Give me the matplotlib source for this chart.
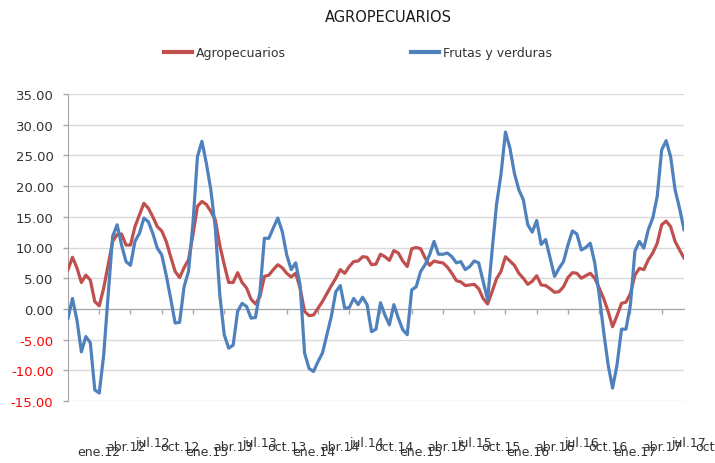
import matplotlib
matplotlib.use("Agg")
import matplotlib.pyplot as plt
from matplotlib.lines import Line2D
from matplotlib.ticker import FormatStrFormatter
from matplotlib.transforms import blended_transform_factory

# ---- data ----
agropecuarios = [
    6.4, 8.4, 6.7, 4.3, 5.5, 4.7, 1.2, 0.5, 3.4, 7.2,
    11.0, 12.1, 12.2, 10.4, 10.4, 13.4, 15.3, 17.2, 16.4, 15.0,
    13.4, 12.7, 11.0, 8.5, 6.1, 5.1, 6.7, 8.0, 12.1, 16.7,
    17.5, 17.0, 15.9, 14.5, 10.4, 7.2, 4.3, 4.3, 5.9, 4.3,
    3.4, 1.6, 0.8, 2.0, 5.3, 5.5, 6.4, 7.2, 6.7, 5.8,
    5.2, 5.8, 3.4, -0.4, -1.1, -1.0, 0.1, 1.2, 2.5, 3.8,
    5.0, 6.4, 5.8, 6.9, 7.7, 7.8, 8.5, 8.4, 7.2, 7.3,
    8.9, 8.5, 7.9, 9.5, 9.1, 7.8, 6.9, 9.8, 10.0, 9.8,
    8.3, 7.1, 7.8, 7.6, 7.5, 6.8, 5.8, 4.6, 4.4, 3.8,
    3.9, 4.0, 3.3, 1.7, 0.8, 2.8, 4.9, 6.1, 8.5, 7.8,
    7.1, 5.8, 5.0, 4.0, 4.5, 5.4, 3.9, 3.8, 3.3, 2.7,
    2.8, 3.6, 5.1, 5.9, 5.8, 5.0, 5.4, 5.8, 5.0, 3.4,
    1.7, -0.4, -2.9, -1.1, 0.9, 1.1, 2.5, 5.5, 6.6, 6.4,
    8.0, 9.1, 10.7, 13.7, 14.3, 13.4, 11.0, 9.6, 8.3,
]
frutas_verduras = [
    -1.5, 1.7, -1.8, -7.0, -4.5, -5.5, -13.2, -13.7, -7.5, 2.3,
    11.8, 13.7, 10.4, 7.7, 7.1, 11.0, 12.3, 14.8, 14.2, 12.3,
    9.9, 8.8, 5.5, 1.7, -2.3, -2.2, 3.6, 6.1, 14.0, 24.8,
    27.3, 23.7, 19.4, 13.2, 2.3, -4.2, -6.4, -5.9, -0.4, 0.9,
    0.4, -1.5, -1.4, 2.8, 11.5, 11.5, 13.2, 14.8, 12.6, 8.8,
    6.4, 7.5, 3.9, -7.2, -9.7, -10.2, -8.6, -7.2, -4.2, -1.2,
    2.8, 3.8, 0.1, 0.2, 1.7, 0.7, 1.9, 0.7, -3.7, -3.3,
    1.0, -1.0, -2.6, 0.7, -1.5, -3.4, -4.2, 3.1, 3.6, 6.1,
    7.2, 8.8, 11.0, 8.9, 8.9, 9.1, 8.5, 7.5, 7.7, 6.4,
    6.9, 7.8, 7.5, 4.5, 1.5, 9.4, 17.0, 21.9, 28.8, 26.2,
    22.1, 19.4, 17.8, 13.7, 12.5, 14.4, 10.5, 11.3, 8.3, 5.3,
    6.6, 7.7, 10.4, 12.7, 12.2, 9.6, 10.0, 10.7, 7.5, 2.3,
    -3.7, -9.1, -12.9, -9.1, -3.3, -3.3, 0.7, 9.4, 11.0, 9.9,
    12.9, 14.8, 18.3, 25.9, 27.4, 24.8, 19.4, 16.4, 12.9,
]
x_labels = [
    "ene.12", "abr.12", "jul.12", "oct.12",
    "ene.13", "abr.13", "jul.13", "oct.13",
    "ene.14", "abr.14", "jul.14", "oct.14",
    "ene.15", "abr.15", "jul.15", "oct.15",
    "ene.16", "abr.16", "jul.16", "oct.16",
    "ene.17", "abr.17", "jul.17", "oct.17",
]
y_ticks = [-15, -10, -5, 0, 5, 10, 15, 20, 25, 30, 35]

RED = "#C0504D"
BLUE = "#4F81BD"
GRAY = "#A6A6A6"

plt.rcParams["font.family"] = ["DejaVu Sans"]

W, H = 715, 464
fig = plt.figure(figsize=(W / 100, H / 100), dpi=100)
ax = fig.add_axes([68 / W, 1 - 402 / H, (684 - 68) / W, (402 - 95) / H])

n = len(agropecuarios)
xs = list(range(n))
ax.plot(xs, agropecuarios, color=RED, lw=2.3, solid_joinstyle="round", zorder=3)
ax.plot(xs, frutas_verduras, color=BLUE, lw=2.3, solid_joinstyle="round", zorder=3)

ax.set_xlim(0, n - 1)
ax.set_ylim(-15, 35)
ax.set_yticks(y_ticks)
ax.yaxis.set_major_formatter(FormatStrFormatter("%.2f"))
ax.grid(axis="y", color="#D9D9D9", lw=1.0, zorder=0)
ax.set_axisbelow(True)

for s in ["top", "right"]:
    ax.spines[s].set_visible(False)
ax.spines["left"].set_color(GRAY)
ax.spines["bottom"].set_color(GRAY)
ax.spines["bottom"].set_position(("data", 0))
ax.spines["bottom"].set_zorder(2)

ax.set_xticks(list(range(7, n, 7)))
ax.set_xticklabels([])
ax.tick_params(axis="x", direction="out", length=3.5, color=GRAY, width=1)
ax.tick_params(axis="y", direction="out", length=3.5, color=GRAY, width=1,
               pad=7, labelsize=9.5, labelcolor="#333333")
for v, lab in zip(y_ticks, ax.get_yticklabels()):
    lab.set_color("#FF0000" if v < 0 else "#333333")

# staggered category labels (overlapping, as in the reference)
trans = blended_transform_factory(ax.transData, fig.transFigure)
baselines = {"ene": 456, "abr": 451, "jul": 447, "oct": 451}
for k, lab in enumerate(x_labels):
    xpos = 7 + 6 * k
    ax.text(xpos, 1 - baselines[lab[:3]] / H, lab, transform=trans,
            ha="center", va="baseline", fontsize=9, color="#333333",
            clip_on=False)

fig.text(388 / W, 1 - 17 / H, "AGROPECUARIOS", ha="center", va="center",
         fontsize=10.5, color="#1a1a1a")

handles = [Line2D([], [], color=RED, lw=3), Line2D([], [], color=BLUE, lw=3)]
fig.legend(handles, ["Agropecuarios", "Frutas y verduras"], loc="center",
           bbox_to_anchor=(358 / W, 1 - 54 / H), ncol=2, frameon=False,
           fontsize=9, handlelength=2.2, handletextpad=0.35,
           columnspacing=10.0, labelcolor="#333333")

fig.savefig("out.png", dpi=100)
